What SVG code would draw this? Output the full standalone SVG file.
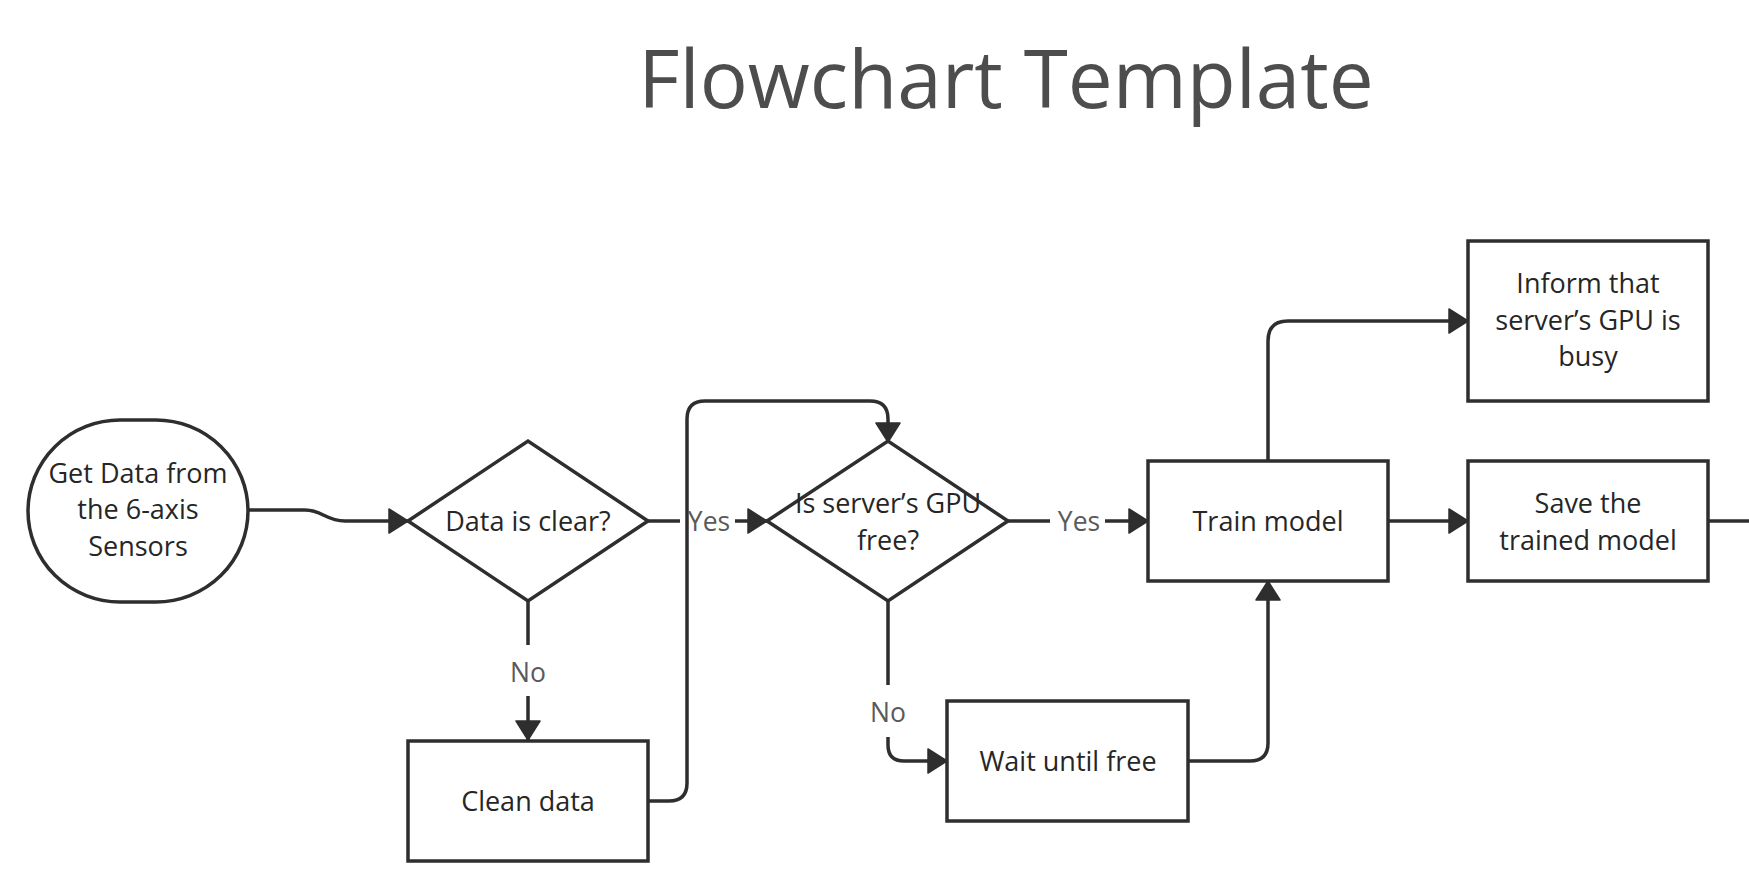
<svg xmlns="http://www.w3.org/2000/svg" width="1749" height="883" viewBox="0 0 1749 883">
<style>
.shape{fill:#ffffff;stroke:#2e2e2e;stroke-width:3.5}
.txt{font-family:"Open Sans","Noto Sans","Liberation Sans",sans-serif;font-size:27px;fill:#262626;text-anchor:middle}
.lbl{font-family:"Open Sans","Noto Sans","Liberation Sans",sans-serif;font-size:26.5px;fill:#5a5a5a;text-anchor:middle}
.title{font-family:"Open Sans","Noto Sans","Liberation Sans",sans-serif;font-size:80px;fill:#4d4d4d;text-anchor:middle}
.conn{fill:none;stroke:#2e2e2e;stroke-width:3.5}
</style>
<defs>
<marker id="arr" markerUnits="userSpaceOnUse" markerWidth="24" markerHeight="28" refX="20" refY="13" orient="auto">
<path d="M1,1 L20,13 L1,25 Z" fill="#2e2e2e" stroke="#2e2e2e" stroke-width="1.5" stroke-linejoin="round"/>
</marker>
</defs>
<rect width="1749" height="883" fill="#ffffff"/>
<text class="title" x="1006" y="108">Flowchart Template</text>

<g id="connectors">
<path class="conn" d="M248 510 H305 C322 510 326 521 345 521 H408" marker-end="url(#arr)"/>
<path class="conn" d="M648 521 H680 M735 521 H767" marker-end="url(#arr)"/>
<path class="conn" d="M528 601 V645 M528 696 V740" marker-end="url(#arr)"/>
<path class="conn" d="M648 801 H669 Q687 801 687 783 V419 Q687 401 705 401 H870 Q888 401 888 419 V442" marker-end="url(#arr)"/>
<path class="conn" d="M1008 521 H1050 M1105 521 H1148" marker-end="url(#arr)"/>
<path class="conn" d="M888 601 V685 M888 737 V745 Q888 761 904 761 H947" marker-end="url(#arr)"/>
<path class="conn" d="M1188 761 H1250 Q1268 761 1268 743 V581" marker-end="url(#arr)"/>
<path class="conn" d="M1268 461 V341 Q1268 321 1288 321 H1468" marker-end="url(#arr)"/>
<path class="conn" d="M1388 521 H1468" marker-end="url(#arr)"/>
<path class="conn" d="M1708 521 H1749"/>
<text class="lbl" x="709" y="531">Yes</text>
<text class="lbl" x="1079" y="531">Yes</text>
<text class="lbl" x="528" y="682">No</text>
<text class="lbl" x="888" y="722">No</text>
</g>

<g id="start">
<rect class="shape" x="28" y="420" width="220" height="182" rx="92" ry="91"/>
<text class="txt" x="138" y="483">Get Data from</text>
<text class="txt" x="138" y="519">the 6-axis</text>
<text class="txt" x="138" y="556">Sensors</text>
</g>

<g id="data-clear">
<polygon class="shape" points="408,521 528,441 648,521 528,601"/>
<text class="txt" x="528" y="531">Data is clear?</text>
</g>

<g id="clean-data">
<rect class="shape" x="408" y="741" width="240" height="120"/>
<text class="txt" x="528" y="811">Clean data</text>
</g>

<g id="gpu-free">
<polygon class="shape" points="767,521 888,441 1008,521 888,601"/>
<text class="txt" x="888" y="513">Is server’s GPU</text>
<text class="txt" x="888" y="550">free?</text>
</g>

<g id="wait">
<rect class="shape" x="947" y="701" width="241" height="120"/>
<text class="txt" x="1068" y="771">Wait until free</text>
</g>

<g id="train">
<rect class="shape" x="1148" y="461" width="240" height="120"/>
<text class="txt" x="1268" y="531">Train model</text>
</g>

<g id="inform">
<rect class="shape" x="1468" y="241" width="240" height="160"/>
<text class="txt" x="1588" y="293">Inform that</text>
<text class="txt" x="1588" y="330">server’s GPU is</text>
<text class="txt" x="1588" y="366">busy</text>
</g>

<g id="save">
<rect class="shape" x="1468" y="461" width="240" height="120"/>
<text class="txt" x="1588" y="513">Save the</text>
<text class="txt" x="1588" y="550">trained model</text>
</g>
</svg>
